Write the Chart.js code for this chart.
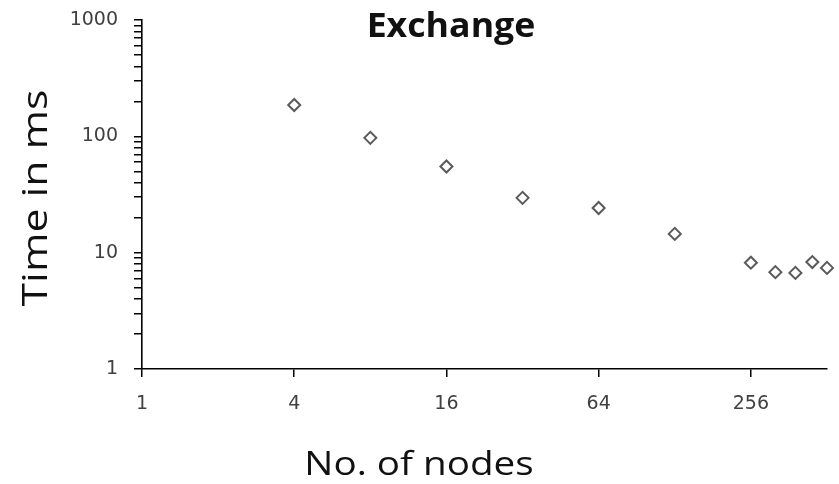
<!DOCTYPE html>
<html>
<head>
<meta charset="utf-8">
<script src="https://cdn.jsdelivr.net/npm/chart.js@4/dist/chart.umd.min.js"></script>
<style>
  html, body { margin: 0; padding: 0; background: #ffffff; }
  #wrap { width: 839px; height: 484px; }
</style>
</head>
<body>
<div id="wrap"><canvas id="c" width="839" height="484"></canvas></div>
<script>
// Exchange timings against cluster size
const nodes = [4, 8, 16, 32, 64, 128, 256, 320, 384, 448, 512];
const timeMs = [186, 97, 55, 29.6, 24.2, 14.5, 8.2, 6.8, 6.7, 8.3, 7.4];

// Axis ticks
const xTicks = [1, 4, 16, 64, 256];
const yTicks = [1, 2, 3, 4, 5, 6, 7, 8, 9,
                10, 20, 30, 40, 50, 60, 70, 80, 90,
                100, 200, 300, 400, 500, 600, 700, 800, 900, 1000];
const yTickLabels = [1, 10, 100, 1000];

const chartTitle = 'Exchange';
const xTitle = 'No. of nodes';
const yTitle = 'Time in ms';

// Draws a line of text centred on (x, y), widened along its direction by `stretch`
function wideText(ctx, text, x, y, font, stretch, angle) {
  ctx.save();
  ctx.translate(x, y);
  ctx.rotate(angle);
  ctx.scale(stretch, 1);
  ctx.font = font;
  ctx.textAlign = 'center';
  ctx.textBaseline = 'alphabetic';
  ctx.fillText(text, 0, 0);
  ctx.restore();
}

// Headings drawn on top of the plot, positioned freely like an office chart
const headings = {
  id: 'headings',
  afterDraw(chart) {
    const ctx = chart.ctx;
    ctx.save();
    ctx.fillStyle = '#111111';
    wideText(ctx, chartTitle, 451, 37, 'bold 34px "Open Sans"', 1.05, 0);
    wideText(ctx, xTitle, 419, 475, '33px "Open Sans"', 1.17, 0);
    wideText(ctx, yTitle, 47, 198, '35px "Open Sans"', 1.22, -Math.PI / 2);
    ctx.restore();
  }
};

new Chart(document.getElementById('c'), {
  type: 'scatter',
  data: {
    datasets: [{
      label: 'Exchange',
      data: nodes.map((n, i) => ({ x: n, y: timeMs[i] })),
      pointStyle: 'rectRot',
      pointRadius: 6,
      pointHoverRadius: 6,
      borderWidth: 2,
      borderColor: '#5a5a5a',
      backgroundColor: 'rgba(255,255,255,0)',
      showLine: false,
      clip: false
    }]
  },
  options: {
    responsive: false,
    animation: false,
    layout: { padding: { top: 20, right: 12, left: 0, bottom: 0 } },
    plugins: {
      legend: { display: false },
      tooltip: { enabled: false },
      title: { display: false }
    },
    scales: {
      x: {
        type: 'logarithmic',
        min: 1,
        max: 512,
        afterBuildTicks(scale) { scale.ticks = xTicks.map(v => ({ value: v })); },
        afterFit(scale) {
          scale.height = 115;
          scale.paddingLeft = 0;
          scale.paddingRight = 0;
        },
        grid: { drawOnChartArea: false, drawTicks: true, tickLength: 8, color: '#000000', lineWidth: 1.5 },
        border: { display: true, color: '#000000', width: 1.6 },
        ticks: {
          autoSkip: false,
          maxRotation: 0,
          padding: 16,
          color: '#404040',
          font: { family: '"DejaVu Sans"', size: 19 },
          callback: (v) => String(v)
        }
      },
      y: {
        type: 'logarithmic',
        min: 1,
        max: 1000,
        afterBuildTicks(scale) { scale.ticks = yTicks.map(v => ({ value: v })); },
        afterFit(scale) {
          scale.width = 142;
          scale.paddingTop = 0;
          scale.paddingBottom = 0;
        },
        grid: { drawOnChartArea: false, drawTicks: true, tickLength: 8, color: '#000000', lineWidth: 1.5 },
        border: { display: true, color: '#000000', width: 1.6 },
        ticks: {
          autoSkip: false,
          padding: 16,
          color: '#404040',
          font: { family: '"DejaVu Sans"', size: 19 },
          callback: (v) => yTickLabels.includes(v) ? String(v) : ''
        }
      }
    }
  },
  plugins: [headings]
});
</script>
</body>
</html>
